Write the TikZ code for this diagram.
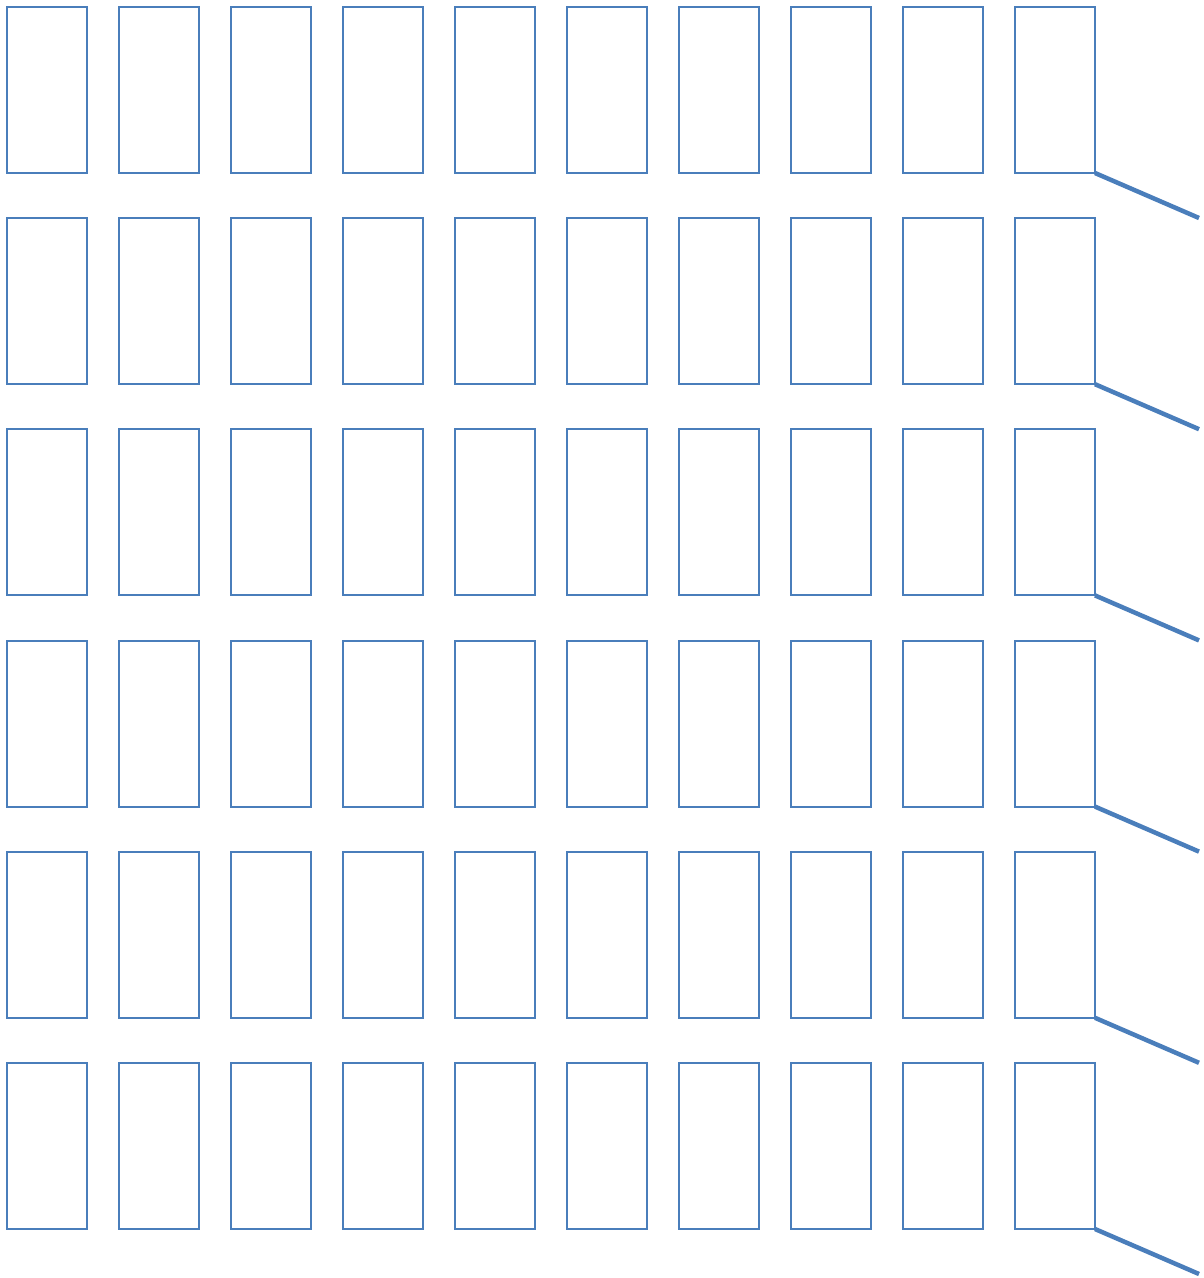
\documentclass[tikz,border=0pt]{standalone}
\begin{document}
\begin{tikzpicture}[x=1pt,y=-1pt,
  box/.style={draw=linecol,line width=2pt,minimum width=80pt,minimum height=166pt,inner sep=0pt,outer sep=0pt,anchor=north west},
  tail/.style={draw=linecol,line width=4.5pt}]
\definecolor{linecol}{HTML}{4A7EBB}
\useasboundingbox (0,0) rectangle (1203,1278);
\foreach \i in {0,...,5}{
  \foreach \j in {0,...,9}{
    \node[box] (r-\i-\j) at ({7+112*\j},{7+211.2*\i}) {};
  }
  \coordinate (e-\i) at (1199,{173+211.2*\i+45});
  \draw[tail] (r-\i-9.south east) -- (e-\i);
}
\end{tikzpicture}
\end{document}
